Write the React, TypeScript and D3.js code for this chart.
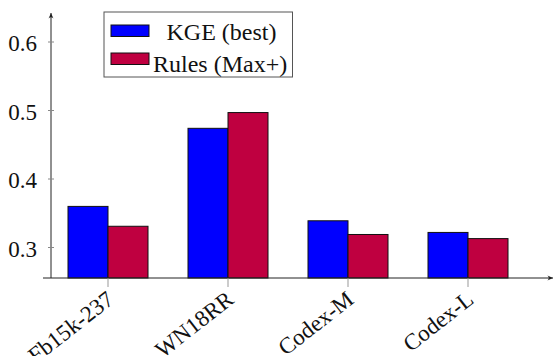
import React from "react";
import * as d3 from "d3";

const categories = ["Fb15k-237", "WN18RR", "Codex-M", "Codex-L"];
const kgeBest = [0.36, 0.474, 0.339, 0.322];
const rulesMax = [0.331, 0.497, 0.319, 0.313];
const yTicks = [0.3, 0.4, 0.5, 0.6];
const seriesNames = ["KGE (best)", "Rules (Max+)"];

const W = 554;
const H = 356;
const FONT = "Liberation Serif";
const BLUE = "#0000ff";
const RED = "#bf0040";

export default function App() {
  const axisX = 51;
  const axisY = 278;
  const y = d3.scaleLinear().domain([0.3, 0.6]).range([247.5, 42]);
  const yTop = 13;
  const x = d3.scalePoint<string>().domain(categories).range([108, 468]);
  const barW = 40;

  const series = [
    { name: seriesNames[0], values: kgeBest, color: BLUE, offset: -1 },
    { name: seriesNames[1], values: rulesMax, color: RED, offset: 0 },
  ];

  return (
    <svg width={W} height={H} style={{ position: "absolute", left: 0, top: 0, background: "#fff" }}>
      <defs>
        <marker id="arr" viewBox="0 0 10 10" refX="9" refY="5" markerWidth="7" markerHeight="7" orient="auto">
          <path d="M1,1.5 Q5,5 1,8.5 L9,5 Z" fill="#222" />
        </marker>
      </defs>

      {/* grouped bars */}
      {series.map((s) =>
        categories.map((c, i) => {
          const x0 = (x(c) as number) + s.offset * barW;
          const top = y(s.values[i]);
          return (
            <rect key={s.name + c} x={x0} y={top} width={barW} height={axisY - top}
              fill={s.color} stroke="#111" strokeWidth={1} />
          );
        })
      )}

      {/* y axis */}
      <line x1={axisX} y1={axisY} x2={axisX} y2={yTop} stroke="#222" strokeWidth={1} markerEnd="url(#arr)" />
      {yTicks.map((t) => (
        <g key={t}>
          <line x1={axisX - 3} x2={axisX + 3} y1={y(t)} y2={y(t)} stroke="#888" strokeWidth={1} />
          <text x={axisX - 14} y={y(t) + 9} textAnchor="end" fontFamily={FONT} fontSize={23} fill="#111">
            {d3.format(".1f")(t)}
          </text>
        </g>
      ))}

      {/* x axis */}
      <line x1={axisX - 8} y1={axisY} x2={W - 1} y2={axisY} stroke="#222" strokeWidth={1} markerEnd="url(#arr)" />
      {categories.map((c) => (
        <g key={c}>
          <line x1={x(c)} x2={x(c)} y1={axisY} y2={axisY + 9} stroke="#999" strokeWidth={1} />
          <text transform={`translate(${(x(c) as number) - 3},${axisY + 11}) rotate(-38)`}
            textAnchor="end" dy="0.72em" fontFamily={FONT} fontSize={23} fill="#111">
            {c}
          </text>
        </g>
      ))}

      {/* legend */}
      <rect x={104} y={12} width={188.5} height={65} fill="#fff" stroke="#555" strokeWidth={1} />
      <rect x={111} y={25} width={38} height={11.5} fill={BLUE} stroke="#111" strokeWidth={1} />
      <text x={221.5} y={40} textAnchor="middle" fontFamily={FONT} fontSize={24} fill="#111">
        {seriesNames[0]}
      </text>
      <rect x={111} y={53} width={38} height={11.5} fill={RED} stroke="#111" strokeWidth={1} />
      <text x={153} y={71.5} textAnchor="start" fontFamily={FONT} fontSize={24} fill="#111">
        {seriesNames[1]}
      </text>
    </svg>
  );
}
